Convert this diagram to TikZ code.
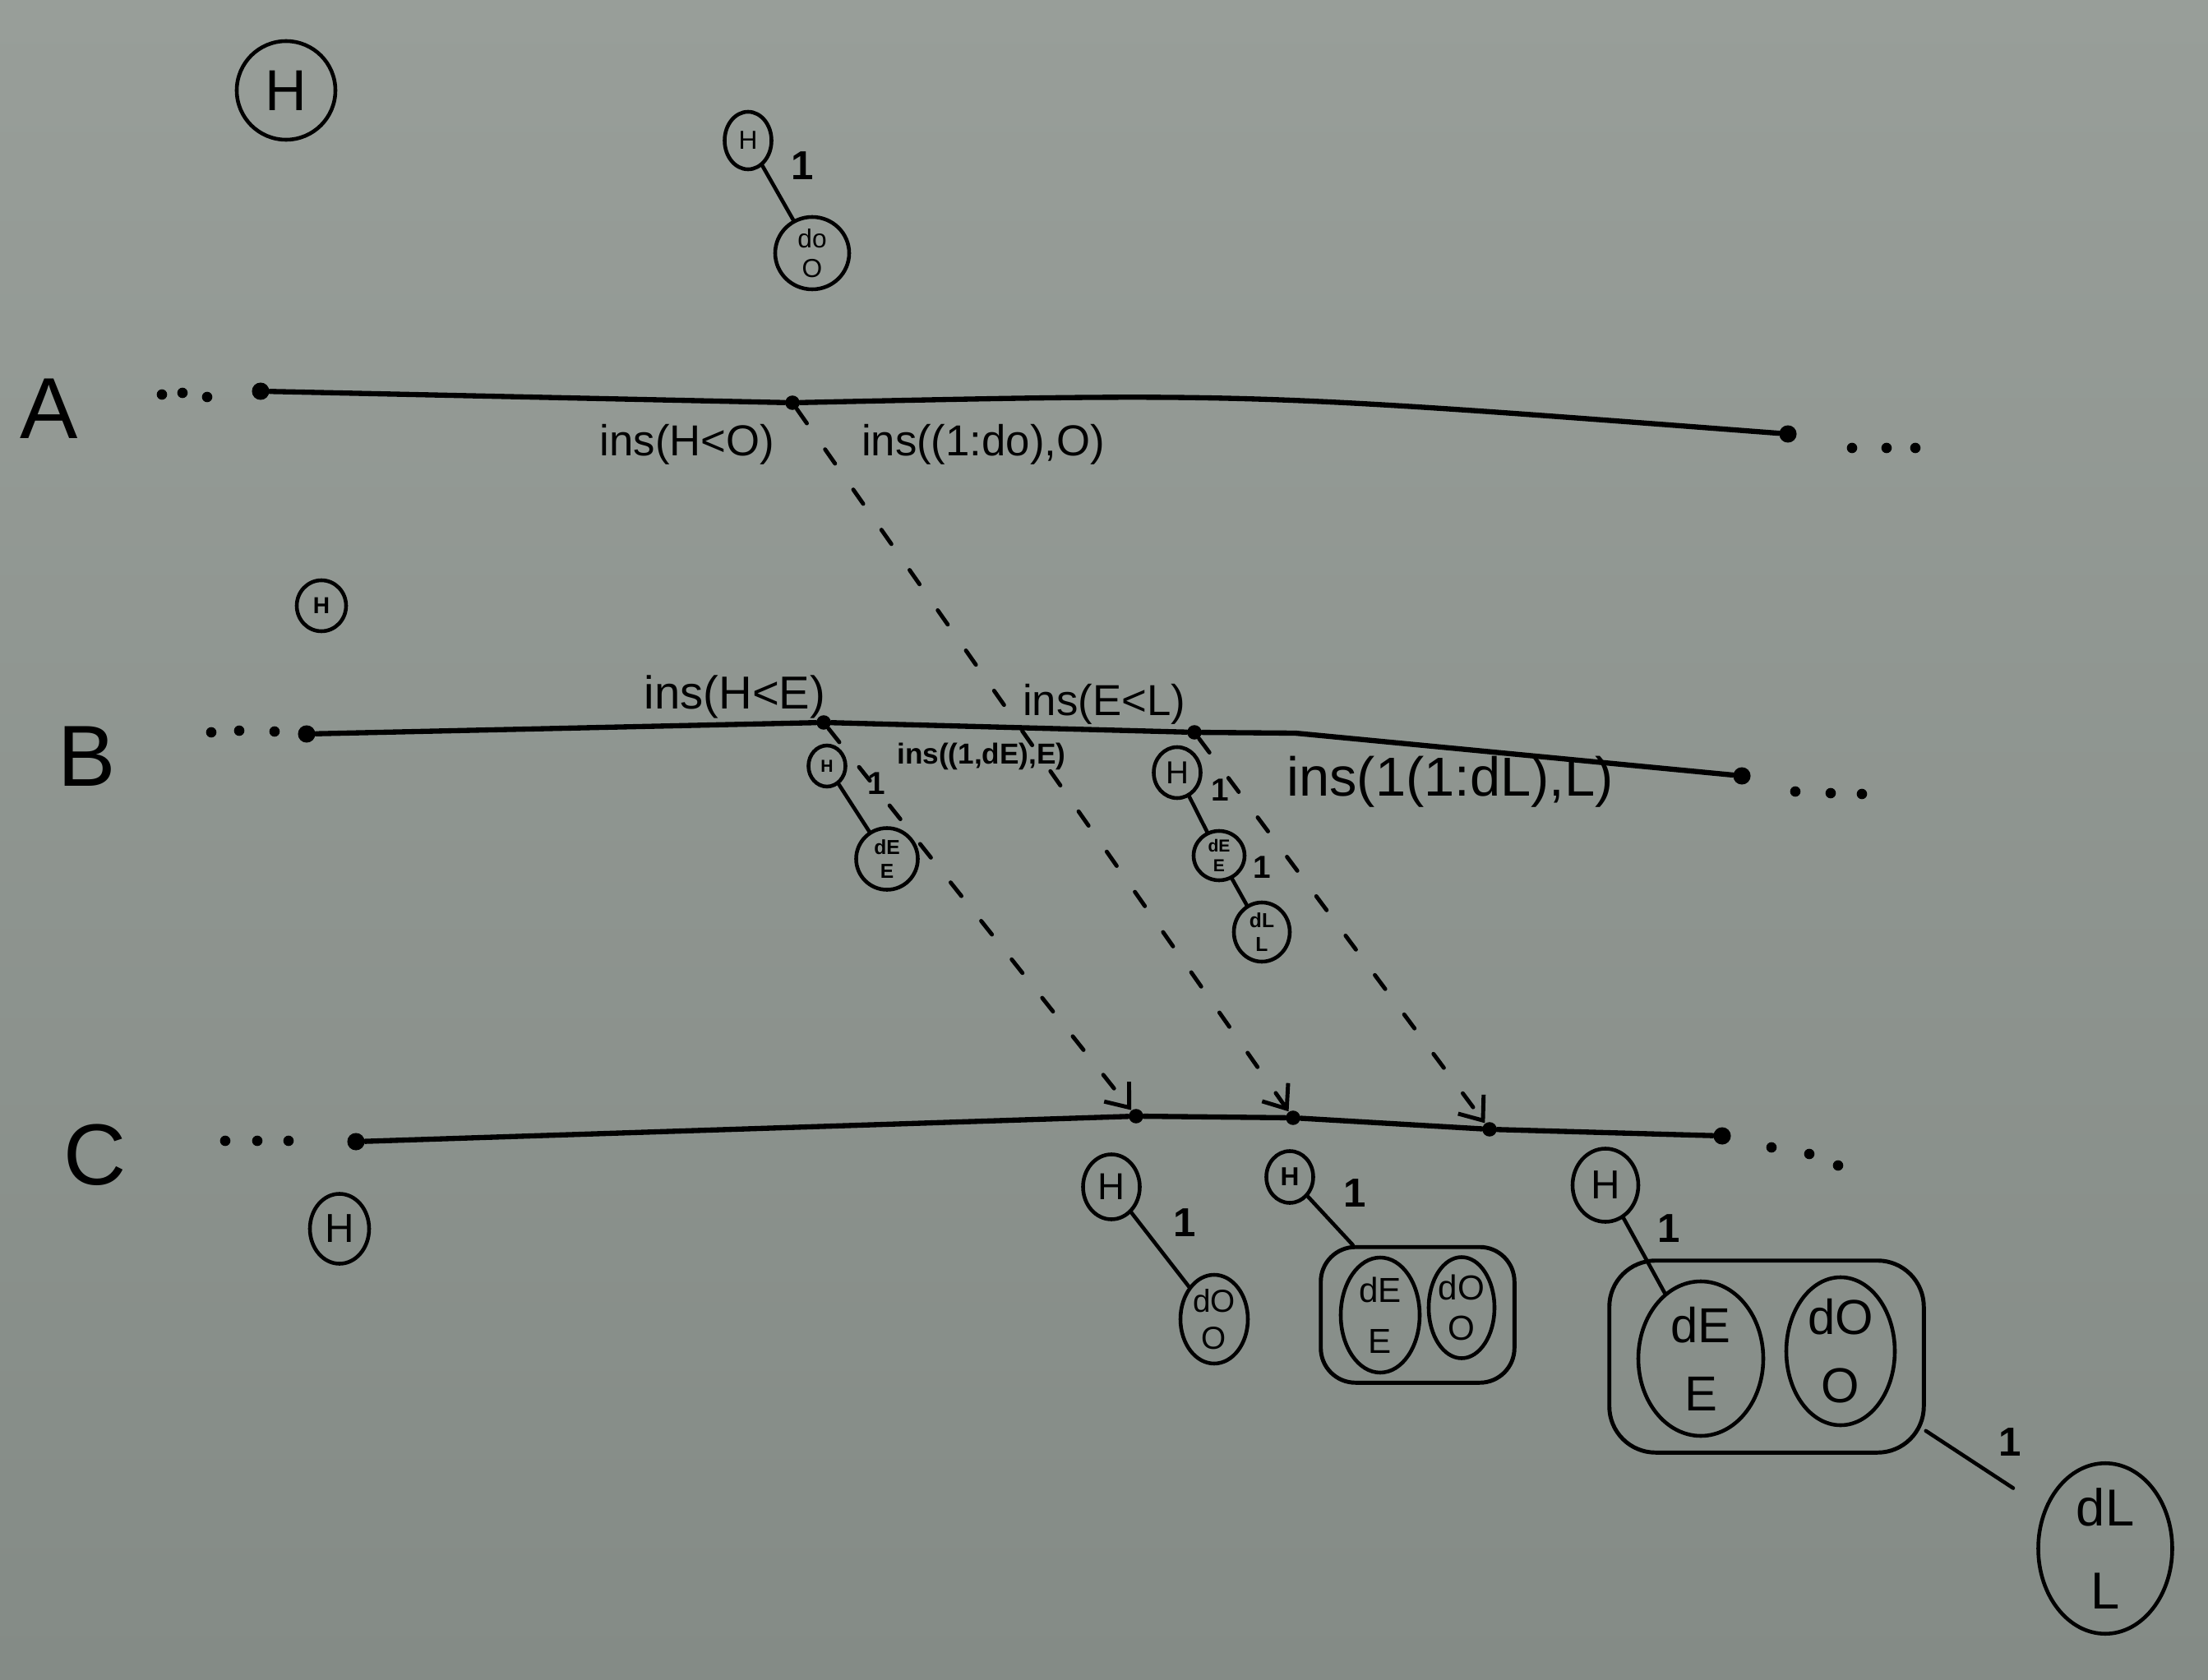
\documentclass[tikz,border=0pt]{standalone}
\usepackage{fontspec}
\setmainfont{Liberation Sans}
\usetikzlibrary{shapes.geometric,fit,arrows.meta}
\definecolor{boardtop}{RGB}{152,158,153}
\definecolor{boardbot}{RGB}{132,139,134}
\newcommand{\fs}[1]{\fontsize{#1}{1.15\dimexpr#1pt\relax}\selectfont}
\begin{document}
\begin{tikzpicture}[x=1cm,y=-1cm,line cap=round,
    tl/.style={line width=1.8pt},
    dot/.style={circle,fill,inner sep=0pt,minimum size=6pt},
    knot/.style={ellipse,draw,line width=1.3pt,inner sep=0pt,align=center},
    grp/.style={draw,line width=1.4pt,rounded corners=12pt},
    op/.style={font=\fs{15}},
    hop/.style={line width=1.4pt,dash pattern=on 6pt off 11pt,
      -{Straight Barb[length=7pt,width=11pt,line width=1.4pt]}},
    edge/.style={line width=1.3pt},
    one/.style={font=\fs{14}\bfseries,auto,inner sep=4pt}]
  \shade[top color=boardtop,bottom color=boardbot] (0,0) rectangle (26.86,20.44);

  \node[knot,minimum width=1.2cm,minimum height=1.2cm,font=\fs{20}] (h0) at (3.48,1.10) {H};
  \node[knot,minimum width=0.57cm,minimum height=0.7cm,font=\fs{9}] (hA) at (9.10,1.71) {H};
  \node[knot,minimum width=0.9cm,minimum height=0.88cm,font=\fs{9}] (oA) at (9.88,3.08) {do\\O};
  \draw[edge] (hA) -- node[one]{1} (oA);

  \node[font=\fs{30}] (lA) at (0.60,4.97) {A};
  \node[dot] (a0) at (3.17,4.76) {};
  \node[dot,minimum size=5pt] (a1) at (9.64,4.90) {};
  \coordinate (a9) at (15.20,4.78);
  \node[dot] (a2) at (21.75,5.28) {};
  \draw[tl] (a0) -- (a1) .. controls (a9) .. (a2);
  \foreach \x/\y in {1.97/4.80,2.22/4.78,2.52/4.83,22.53/5.45,22.95/5.45,23.30/5.45}
    \fill (\x,\y) circle (1.8pt);
  \node[op] (opA1) at (8.36,5.41) {ins(H<O)};
  \node[op] (opA2) at (11.96,5.41) {ins((1:do),O)};

  \node[knot,minimum width=0.6cm,minimum height=0.62cm,font=\fs{8}\bfseries] (hB) at (3.91,7.37) {H};

  \node[font=\fs{30}] (lB) at (1.06,9.20) {B};
  \node[dot] (b0) at (3.73,8.93) {};
  \node[dot,minimum size=5pt] (b1) at (10.02,8.79) {};
  \node[dot,minimum size=5pt] (b2) at (14.53,8.91) {};
  \coordinate (b9) at (15.76,8.92);
  \node[dot] (b3) at (21.19,9.44) {};
  \draw[tl] (b0) -- (b1) -- (b2) -- (b9) -- (b3);
  \foreach \x/\y in {2.57/8.91,2.91/8.89,3.34/8.90,21.84/9.63,22.27/9.65,22.65/9.66}
    \fill (\x,\y) circle (1.8pt);
  \node[op,font=\fs{16}] (opB1) at (8.94,8.48) {ins(H<E)};
  \node[op,font=\fs{15}] (opB2) at (13.43,8.57) {ins(E<L)};
  \node[op,font=\fs{10}\bfseries] (opB3) at (11.94,9.20) {ins((1,dE),E)};
  \node[op,font=\fs{19}] (opB4) at (17.64,9.51) {ins(1(1:dL),L)};

  \node[knot,minimum width=0.45cm,minimum height=0.5cm,font=\fs{6}\bfseries] (hB1) at (10.06,9.32) {H};
  \node[knot,minimum width=0.75cm,minimum height=0.75cm,font=\fs{7}\bfseries] (eB1) at (10.79,10.45) {dE\\E};
  \draw[edge] (hB1) -- node[one,font=\fs{11}\bfseries]{1} (eB1);
  \node[knot,minimum width=0.57cm,minimum height=0.62cm,font=\fs{11}] (hB2) at (14.32,9.40) {H};
  \node[knot,minimum width=0.62cm,minimum height=0.6cm,font=\fs{6}\bfseries] (eB2) at (14.83,10.41) {dE\\E};
  \node[knot,minimum width=0.68cm,minimum height=0.72cm,font=\fs{7}\bfseries] (lB2) at (15.35,11.34) {dL\\L};
  \draw[edge] (hB2) -- node[one,font=\fs{11}\bfseries]{1} (eB2);
  \draw[edge] (eB2) -- node[one,font=\fs{11}\bfseries]{1} (lB2);

  \node[font=\fs{30}] (lC) at (1.16,14.05) {C};
  \node[dot] (c0) at (4.33,13.89) {};
  \node[dot,minimum size=5pt] (c1) at (13.82,13.58) {};
  \node[dot,minimum size=5pt] (c2) at (15.73,13.60) {};
  \node[dot,minimum size=5pt] (c3) at (18.12,13.74) {};
  \node[dot] (c4) at (20.95,13.82) {};
  \draw[tl] (c0) -- (c1) -- (c2) -- (c3) -- (c4);
  \foreach \x/\y in {2.74/13.88,3.13/13.88,3.51/13.88,21.55/13.96,22.01/14.04,22.36/14.18}
    \fill (\x,\y) circle (1.8pt);

  \draw[hop] (a1) -- (c2);
  \draw[hop] (b1) -- (c1);
  \draw[hop] (b2) -- (c3);

  \node[knot,minimum width=0.72cm,minimum height=0.85cm,font=\fs{14}] (hC) at (4.13,14.95) {H};

  \node[knot,minimum width=0.69cm,minimum height=0.79cm,font=\fs{13}] (hC1) at (13.52,14.44) {H};
  \node[knot,minimum width=0.82cm,minimum height=1.08cm,font=\fs{11}] (oC1) at (14.77,16.05) {dO\\O};
  \draw[edge] (hC1) -- node[one]{1} (oC1);

  \node[knot,minimum width=0.57cm,minimum height=0.63cm,font=\fs{9}\bfseries] (hC2) at (15.69,14.32) {H};
  \node[knot,minimum width=0.96cm,minimum height=1.4cm,font=\fs{12}] (eC2) at (16.79,16.00) {dE\\[4pt]E};
  \node[knot,minimum width=0.8cm,minimum height=1.23cm,font=\fs{12}] (oC2) at (17.78,15.91) {dO\\O};
  \node[grp,fit=(eC2)(oC2),inner xsep=0.22cm,inner ysep=0.1cm] (g2) {};
  \draw[edge] (hC2) -- node[one]{1} (g2);

  \node[knot,minimum width=0.8cm,minimum height=0.89cm,font=\fs{14}] (hC3) at (19.53,14.42) {H};
  \node[knot,minimum width=1.52cm,minimum height=1.88cm,font=\fs{17}] (eC3) at (20.69,16.53) {dE\\[4pt]E};
  \node[knot,minimum width=1.32cm,minimum height=1.8cm,font=\fs{17}] (oC3) at (22.39,16.44) {dO\\[4pt]O};
  \node[grp,fit=(eC3)(oC3),inner xsep=0.33cm,inner ysep=0.18cm,rounded corners=16pt] (g3) {};
  \draw[edge] (hC3) -- node[one]{1} (eC3);
  \node[knot,minimum width=1.63cm,minimum height=2.05cm,font=\fs{18}] (lC3) at (25.61,18.84) {dL\\[8pt]L};
  \draw[edge,shorten >=0.45cm] (g3.-25) -- node[one]{1} (lC3);
\end{tikzpicture}
\end{document}
